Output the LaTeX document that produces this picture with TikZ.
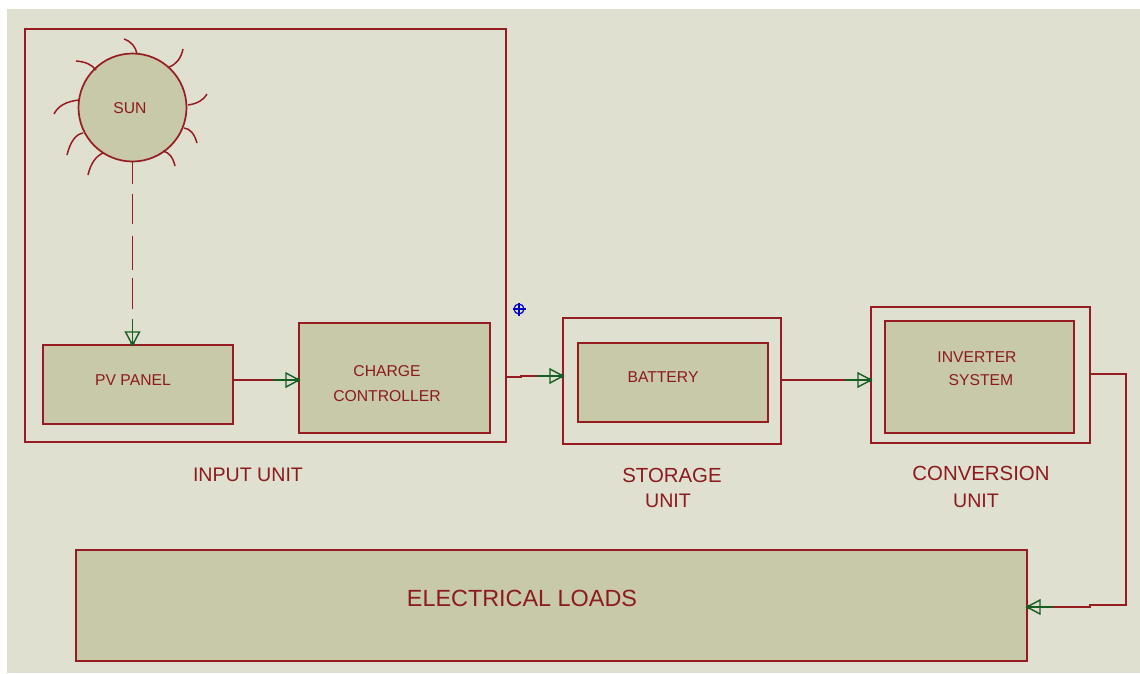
\documentclass[tikz,border=0pt]{standalone}
\usepackage{fontspec}
\usetikzlibrary{calc}
\setmainfont{Liberation Sans}
\definecolor{sheetgrey}{RGB}{223,224,208}
\definecolor{blockfill}{RGB}{200,201,169}
\definecolor{wirered}{RGB}{150,28,34}
\definecolor{textred}{RGB}{140,26,30}
\definecolor{headgreen}{RGB}{22,94,36}
\tikzset{
    wire/.style={draw=wirered, line width=1.7pt},
    unitbox/.style={wire, inner sep=0pt, outer sep=0pt},
    blockbox/.style={unitbox, fill=blockfill},
    smalltext/.style={text=textred, font=\fontsize{15.7}{18}\selectfont, inner sep=0pt},
    unittext/.style={text=textred, font=\fontsize{19.6}{23}\selectfont, inner sep=0pt},
    widetext/.style={text=textred, font=\fontsize{20.4}{23}\selectfont, inner sep=0pt},
    greenhead/.pic={
        \draw[solid, headgreen, line width=1.7pt] (-26,0) -- (0,0);
        \draw[solid, headgreen, line width=1.4pt] (-13,-7) -- (0,0) -- (-13,7) -- cycle;
        \fill[headgreen] (-1.5,0) circle (2.2);
    }
}
\begin{document}
\begin{tikzpicture}[x=1pt, y=-1pt]
    \useasboundingbox (0,0) rectangle (1140,673);
    % Sheet
    \fill[white] (0,0) rectangle (1140,673);
    \fill[sheetgrey] (7,9) rectangle (1140,673);

    % Input unit
    \node[unitbox, minimum width=481pt, minimum height=413pt] (inputunit) at (265.5,235.5) {};
    \node[blockbox, circle, minimum size=108pt] (sun) at (132.5,107.5) {};
    \node[smalltext] (sunlabel) at (130,108) {SUN};
    \node[blockbox, minimum width=190pt, minimum height=79pt] (pvpanel) at (138,384.5) {};
    \node[smalltext] (pvlabel) at (133,380) {PV PANEL};
    \node[blockbox, minimum width=191pt, minimum height=110pt] (controller) at (394.5,378) {};
    \node[smalltext] (chargelabel) at (387,371) {CHARGE};
    \node[smalltext] (controllerlabel) at (387,396) {CONTROLLER};

    % Sun rays
    \foreach \xa/\ya/\xc/\yc/\xb/\yb in {137/54/135/43/124/39, 169/67/180/63/183/49,
        188/105/202/103/207/94, 184/128/193/129/197/143, 163/151/172/153/175/166,
        103/153/92/158/88/175, 83/133/72/135/67/155, 79/100/60/102/54/114, 96/70/90/62/76/61} {
        \draw[wirered, line width=1.5pt] (\xa,\ya) .. controls ($(\xa,\ya)!0.67!(\xc,\yc)$) and ($(\xb,\yb)!0.67!(\xc,\yc)$) .. (\xb,\yb);
    }

    % Storage unit
    \node[unitbox, minimum width=218pt, minimum height=126pt] (storageunit) at (672,381) {};
    \node[blockbox, minimum width=190pt, minimum height=79pt] (battery) at (673,382.5) {};
    \node[smalltext] (batterylabel) at (663,377) {BATTERY};

    % Conversion unit
    \node[unitbox, minimum width=219pt, minimum height=136pt] (conversionunit) at (980.5,375) {};
    \node[blockbox, minimum width=189pt, minimum height=112pt] (inverter) at (979.5,377) {};
    \node[smalltext] (inverterlabel) at (977,357) {INVERTER};
    \node[smalltext] (systemlabel) at (981,380) {SYSTEM};

    % Loads
    \node[blockbox, minimum width=951pt, minimum height=111pt] (loads) at (551.5,605.5) {};
    \node[text=textred, font=\fontsize{23.4}{28}\selectfont, inner sep=0pt] (loadslabel) at (522,598) {ELECTRICAL LOADS};

    % Unit captions
    \node[unittext] (inputcaption) at (248,475) {INPUT UNIT};
    \node[widetext] (storagecaption) at (672,475) {STORAGE};
    \node[unittext] (storagecaptionb) at (668,501) {UNIT};
    \node[widetext] (conversioncaption) at (981,473) {CONVERSION};
    \node[unittext] (conversioncaptionb) at (976,501) {UNIT};

    % Connectors
    \draw[wire, dash pattern=on 22pt off 10pt on 30pt off 12pt on 34pt off 8pt on 31pt off 40pt]
        (sun.south) -- (sun.south |- pvpanel.north) pic[pos=1, sloped, allow upside down] {greenhead};
    \draw[wire] (pvpanel.east |- 0,380) -- (controller.west |- 0,380)
        pic[pos=1, sloped, allow upside down] {greenhead};
    \draw[wire] (inputunit.east |- 0,377) -- (521,377) -- (521,376) -- (storageunit.west |- 0,376)
        pic[pos=1, sloped, allow upside down] {greenhead};
    \draw[wire] (storageunit.east |- 0,380) -- (conversionunit.west |- 0,380)
        pic[pos=1, sloped, allow upside down] {greenhead};
    \draw[wire] (1089,374) -- (1126,374) -- (1126,605) -- (1090,605) -- (1090,607) -- (loads.east |- 0,607)
        pic[pos=1, sloped, allow upside down] {greenhead};

    % Origin marker
    \draw[blue!75!black, line width=1.2pt] (519,309) circle (5);
    \draw[blue!75!black, line width=1.2pt] (512.5,309) -- (525.5,309) (519,302.5) -- (519,315.5);
\end{tikzpicture}
\end{document}
